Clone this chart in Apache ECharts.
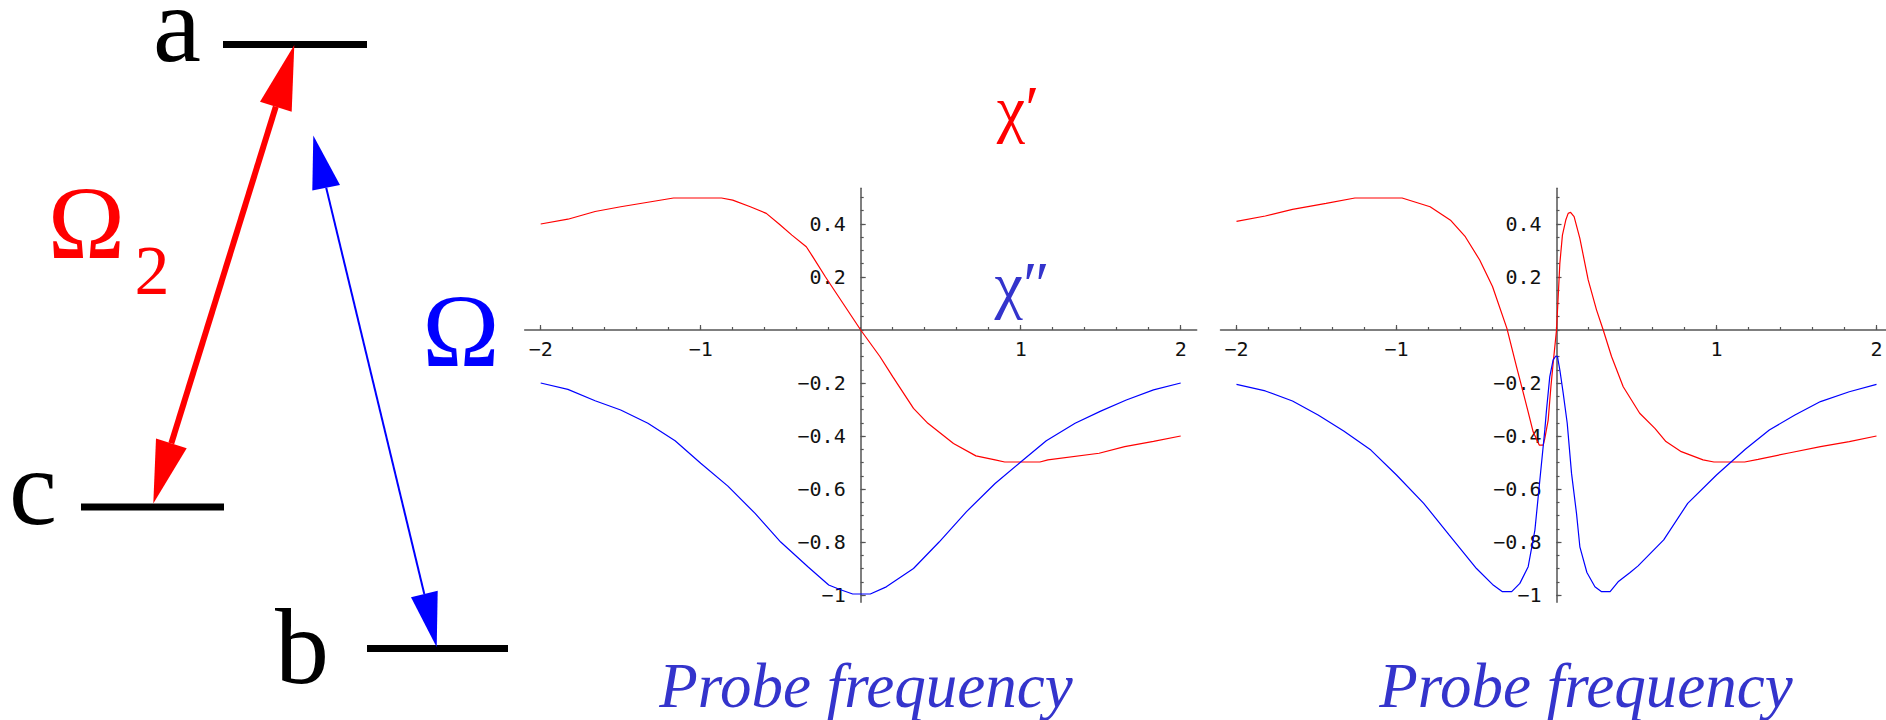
<!DOCTYPE html>
<html>
<head>
<meta charset="utf-8">
<script src="https://cdn.jsdelivr.net/npm/echarts@6/dist/echarts.min.js"></script>
<style>
  html, body { margin: 0; padding: 0; background: #fff; }
  #main { width: 1886px; height: 720px; }
</style>
</head>
<body>
<div id="main"></div>
<script>
// ---- Tick values ----
const xMajorTicks = [-2, -1, 1, 2];
const yMajorTicks = [-1, -0.8, -0.6, -0.4, -0.2, 0.2, 0.4];
const xMinorStep = 0.2;
const yMinorStep = 0.05;

// ---- Two-level medium: dispersion (chi') and absorption (chi'') vs probe detuning ----
const chiReal1 = [
  [-2.0, 0.40], [-1.83, 0.418], [-1.66, 0.447], [-1.5, 0.465], [-1.33, 0.482],
  [-1.17, 0.498], [-0.87, 0.498], [-0.8, 0.49], [-0.69, 0.465], [-0.59, 0.44],
  [-0.51, 0.40], [-0.43, 0.358], [-0.34, 0.314], [-0.30, 0.277], [-0.22, 0.20],
  [-0.11, 0.10], [0, 0], [0.12, -0.10], [0.2, -0.176], [0.33, -0.296],
  [0.42, -0.352], [0.58, -0.428], [0.72, -0.475], [0.84, -0.49], [0.90, -0.498],
  [1.12, -0.498], [1.17, -0.49], [1.49, -0.465], [1.65, -0.44], [1.83, -0.42],
  [2.0, -0.40]
];
const chiImag1 = [
  [-2.0, -0.2], [-1.83, -0.224], [-1.66, -0.267], [-1.5, -0.302], [-1.33, -0.352],
  [-1.16, -0.418], [-1.0, -0.503], [-0.83, -0.589], [-0.66, -0.692], [-0.5, -0.80],
  [-0.33, -0.893], [-0.2, -0.962], [-0.13, -0.979], [-0.05, -0.996], [0.06, -0.996],
  [0.16, -0.969], [0.33, -0.90], [0.49, -0.80], [0.66, -0.686], [0.84, -0.579],
  [1.0, -0.498], [1.16, -0.418], [1.34, -0.352], [1.5, -0.306], [1.66, -0.264],
  [1.83, -0.226], [2.0, -0.2]
];

// ---- Three-level (EIT) medium: dispersion and absorption vs probe detuning ----
const chiReal2 = [
  [-2.0, 0.41], [-1.82, 0.43], [-1.65, 0.455], [-1.44, 0.478], [-1.26, 0.498],
  [-0.965, 0.498], [-0.79, 0.465], [-0.66, 0.413], [-0.57, 0.352], [-0.48, 0.264],
  [-0.40, 0.164], [-0.31, 0.006], [-0.25, -0.138], [-0.18, -0.302], [-0.146, -0.384],
  [-0.108, -0.434], [-0.083, -0.434], [-0.073, -0.409], [-0.052, -0.34], [-0.035, -0.214],
  [-0.021, -0.126], [0, 0], [0.021, 0.252], [0.037, 0.358], [0.058, 0.415],
  [0.073, 0.44], [0.088, 0.444], [0.11, 0.428], [0.146, 0.346], [0.198, 0.189],
  [0.25, 0.076], [0.292, 0], [0.344, -0.10], [0.417, -0.214], [0.52, -0.314],
  [0.615, -0.371], [0.684, -0.421], [0.78, -0.459], [0.916, -0.49], [0.984, -0.498],
  [1.176, -0.498], [1.26, -0.488], [1.46, -0.463], [1.65, -0.44], [1.83, -0.421],
  [2.0, -0.40]
];
const chiImag2 = [
  [-2.0, -0.205], [-1.82, -0.23], [-1.65, -0.268], [-1.49, -0.321], [-1.33, -0.381],
  [-1.16, -0.453], [-1.0, -0.547], [-0.83, -0.654], [-0.67, -0.774], [-0.5, -0.9],
  [-0.40, -0.96], [-0.34, -0.987], [-0.28, -0.987], [-0.229, -0.956], [-0.177, -0.893],
  [-0.135, -0.755], [-0.104, -0.566], [-0.073, -0.377], [-0.0625, -0.302], [-0.042, -0.176],
  [-0.021, -0.113], [-0.004, -0.098], [0.006, -0.10], [0.021, -0.151], [0.042, -0.239],
  [0.067, -0.352], [0.094, -0.541], [0.125, -0.692], [0.146, -0.818], [0.19, -0.915],
  [0.24, -0.969], [0.28, -0.987], [0.335, -0.987], [0.385, -0.95], [0.46, -0.915],
  [0.51, -0.89], [0.67, -0.792], [0.82, -0.654], [1.0, -0.547], [1.18, -0.45],
  [1.33, -0.377], [1.49, -0.321], [1.65, -0.27], [1.83, -0.233], [2.0, -0.205]
];

// ---- Text ----
const xAxisTitle = 'Probe frequency';
const chiRealLabel = 'χ\u2032';
const chiImagLabel = 'χ\u2033';
const levelNames = ['a', 'b', 'c'];
const couplingLabel = 'Ω';
const couplingSub = '2';
const probeLabel = 'Ω';

// ---- Axis ranges ----
const X_MIN = -2.1, X_MAX = 2.1;
const Y_MIN = -1.027, Y_MAX = 0.535;

// ---- Plot boxes ----
const GRID_TOP = 188.2, GRID_H = 414, GRID_W = 672;
const GRID_LEFTS = [524.7, 1220.5];
// axes cross at the origin: shift them in from the box edges
const X_AXIS_SHIFT = -GRID_H * (0 - Y_MIN) / (Y_MAX - Y_MIN);
const Y_AXIS_SHIFT = -GRID_W * (0 - X_MIN) / (X_MAX - X_MIN);

function steps(from, to, step) {
  const out = [];
  const n = Math.round((to - from) / step);
  for (let i = 0; i <= n; i++) out.push(+(from + i * step).toFixed(4));
  return out;
}
const xMinorTicks = steps(-2, 2, xMinorStep);
const yMinorTicks = steps(-1, 0.5, yMinorStep);

const AXIS_COLOR = '#555';
const TICK_FONT = 'DejaVu Sans Mono';
const SERIF = 'Liberation Serif';
const fmt = v => (v < 0 ? '\u2212' + String(Math.abs(v)) : String(v));

function xAxisOf(gridIndex, major) {
  return {
    type: 'value', gridIndex, min: X_MIN, max: X_MAX,
    position: 'bottom', offset: X_AXIS_SHIFT,
    axisLine: { show: major, onZero: false, lineStyle: { color: AXIS_COLOR, width: 1.5 } },
    axisTick: { show: true, inside: true, length: major ? 5 : 3,
                customValues: major ? xMajorTicks : xMinorTicks,
                lineStyle: { color: AXIS_COLOR, width: 1.2 } },
    axisLabel: { show: major, customValues: xMajorTicks, formatter: fmt, margin: 9,
                 fontFamily: TICK_FONT, fontSize: 20, color: '#111' },
    splitLine: { show: false }, minorTick: { show: false }, minorSplitLine: { show: false }
  };
}
function yAxisOf(gridIndex, major) {
  return {
    type: 'value', gridIndex, min: Y_MIN, max: Y_MAX,
    position: 'left', offset: Y_AXIS_SHIFT,
    axisLine: { show: major, onZero: false, lineStyle: { color: AXIS_COLOR, width: 1.5 } },
    axisTick: { show: true, inside: true, length: major ? 5 : 3,
                customValues: major ? yMajorTicks : yMinorTicks,
                lineStyle: { color: AXIS_COLOR, width: 1.2 } },
    axisLabel: { show: major, customValues: yMajorTicks, formatter: fmt, margin: 15,
                 fontFamily: TICK_FONT, fontSize: 20, color: '#111' },
    splitLine: { show: false }, minorTick: { show: false }, minorSplitLine: { show: false }
  };
}
function curve(data, color, axisIdx) {
  return {
    type: 'line', data, xAxisIndex: axisIdx, yAxisIndex: axisIdx,
    showSymbol: false, symbol: 'none', silent: true, z: 5,
    lineStyle: { color, width: 1.2 }, itemStyle: { color }
  };
}

const RED = '#ff0000', BLUE = '#0000ff', TITLE_BLUE = '#3434cc';

// ---- Text blocks, each centred on (x, y) ----
function label(text, x, y, fontSize, color, fontStyle) {
  return {
    text, left: x, top: y, padding: 0, itemGap: 0,
    textAlign: 'center', textVerticalAlign: 'middle',
    textStyle: { color, fontFamily: SERIF, fontSize, fontStyle: fontStyle || 'normal',
                 fontWeight: 'normal' },
    z: 10
  };
}
const titles = [
  label(levelNames[0], 177, 24.5, 108, '#000'),
  label(levelNames[1], 302, 646, 108, '#000'),
  label(levelNames[2], 33, 487, 108, '#000'),
  label(couplingLabel, 86.5, 222, 104, RED),
  label(couplingSub, 152, 270, 70, RED),
  label(probeLabel, 461, 330, 104, BLUE),
  label(chiRealLabel, 1018, 108, 64, RED),
  label(chiImagLabel, 1022, 284, 64, TITLE_BLUE),
  label(xAxisTitle, 866, 686, 63, TITLE_BLUE, 'italic'),
  label(xAxisTitle, 1586, 686, 63, TITLE_BLUE, 'italic')
];

// ---- Level scheme: levels and transition arrows ----
function seg(x1, y1, x2, y2, stroke, lineWidth) {
  return { type: 'line', silent: true, z: 10,
           shape: { x1, y1, x2, y2 }, style: { stroke, lineWidth } };
}
function tri(points, fill) {
  return { type: 'polygon', silent: true, z: 10, shape: { points }, style: { fill } };
}
const graphics = [
  seg(223, 44.5, 367, 44.5, '#000', 7),
  seg(81, 507, 224, 507, '#000', 7),
  seg(367, 648.5, 508, 648.5, '#000', 7),
  // coupling field a <-> c
  seg(275.8, 106.7, 171.3, 443.4, RED, 6),
  tri([[294.3, 45], [260, 101.7], [291.7, 111.7]], RED),
  tri([[153.3, 503.5], [156, 438.5], [186.7, 448.3]], RED),
  // probe field a <-> b
  seg(326.2, 187.8, 424.3, 594, BLUE, 2),
  tri([[313.3, 135.4], [312.3, 190.5], [340, 185]], BLUE),
  tri([[436.7, 647.3], [411, 597.3], [437.7, 590.7]], BLUE)
];

const chart = echarts.init(document.getElementById('main'), null, { renderer: 'svg' });
chart.setOption({
  animation: false,
  backgroundColor: '#fff',
  title: titles,
  grid: GRID_LEFTS.map(left => ({
    left, top: GRID_TOP, width: GRID_W, height: GRID_H,
    containLabel: false, outerBoundsMode: 'none'
  })),
  xAxis: [xAxisOf(0, true), xAxisOf(0, false), xAxisOf(1, true), xAxisOf(1, false)],
  yAxis: [yAxisOf(0, true), yAxisOf(0, false), yAxisOf(1, true), yAxisOf(1, false)],
  series: [
    curve(chiReal1, RED, 0),
    curve(chiImag1, BLUE, 0),
    curve(chiReal2, RED, 2),
    curve(chiImag2, BLUE, 2)
  ],
  graphic: graphics
});
</script>
</body>
</html>
